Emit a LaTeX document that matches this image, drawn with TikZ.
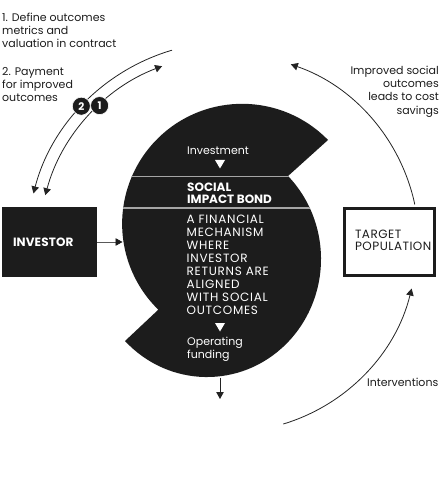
\documentclass[tikz,border=0pt]{standalone}
\usepackage{fontspec}
\setmainfont{Poppins}
\usetikzlibrary{arrows.meta}
\definecolor{ink}{RGB}{28,28,28}
\definecolor{rulegray}{RGB}{165,165,165}
\definecolor{linec}{RGB}{35,35,35}
\newcommand{\lnL}[1]{\begin{tabular}[t]{@{}l@{}}#1\end{tabular}}
\newcommand{\lnR}[1]{\begin{tabular}[t]{@{}r@{}}#1\end{tabular}}
\def\sibpath{(328,140) arc[start angle=-44.3, end angle=-225.7, radius=120] -- (125,341) arc[start angle=136, end angle=-44.7, x radius=114, y radius=118] -- cycle}
\begin{document}
\begin{tikzpicture}[x=1pt,y=-1pt,
  txt/.style={inner sep=0pt, font=\fontsize{11}{13.2}\selectfont, text=ink},
  wtxt/.style={inner sep=0pt, font=\fontsize{11}{13.2}\selectfont, text=white},
  wcaps/.style={inner sep=0pt, font=\fontsize{12}{13.1}\selectfont\addfontfeatures{LetterSpace=6}, text=white},
  wbold/.style={inner sep=0pt, font=\fontsize{12}{12.6}\selectfont\bfseries, text=white},
  arr/.style={-{Triangle[length=7pt,width=7.5pt]}, line width=0.8pt, draw=linec},
  dblarr/.style={{Triangle[length=7pt,width=7.5pt]}-{Triangle[length=7pt,width=7.5pt]}, line width=0.8pt, draw=linec},
  numdot/.style={circle, fill=ink, draw=white, line width=0.6pt, minimum size=18pt, inner sep=0pt, text=white, font=\fontsize{10.5}{10.5}\selectfont\bfseries}]
\useasboundingbox (0,0) rectangle (440,486);

% central shape
\fill[ink] \sibpath;
\begin{scope}
  \clip \sibpath;
  \draw[rulegray, line width=1.6pt] (100,176.5) -- (350,176.5);
  \draw[rulegray, line width=1.6pt] (100,208) -- (350,208);
\end{scope}
\coordinate (sibleft) at (122.5,242);
\coordinate (sibbot) at (220,377.5);
\coordinate (fundout) at (220,399);

\node[wtxt, anchor=base west] (investment) at (187,154.5) {Investment};
\fill[white] (215,160) -- (225,160) -- (220,168.5) -- cycle;
\node[wbold, anchor=base west] (sib) at (187,191.2) {\lnL{SOCIAL\\IMPACT BOND}};
\node[wcaps, anchor=base west] (desc) at (186.5,223.2) {\lnL{A FINANCIAL\\MECHANISM\\WHERE\\INVESTOR\\RETURNS ARE\\ALIGNED\\WITH SOCIAL\\OUTCOMES}};
\fill[white] (215,323) -- (225,323) -- (220,331.5) -- cycle;
\node[wtxt, anchor=base west] (opfund) at (187,345.5) {\lnL{Operating\\funding}};

% boxes
\node[fill=ink, minimum width=95pt, minimum height=70pt, text width=73pt, inner xsep=11pt, inner ysep=0pt, align=left, text=white, font=\fontsize{12}{13.2}\selectfont\bfseries\addfontfeatures{LetterSpace=1}] (investor) at (49.5,242) {INVESTOR};
\node[draw=ink, line width=3pt, minimum width=90pt, minimum height=67pt, text width=69pt, inner xsep=10.5pt, inner ysep=0pt, align=left, text=ink, font=\fontsize{12}{12.6}\selectfont\addfontfeatures{LetterSpace=4}] (target) at (389.5,242) {\lnL{TARGET\\POPULATION}};

% connectors
\draw[-{Triangle[length=7pt,width=7.5pt,color=ink]}, line width=0.8pt, draw=black!65] (investor.east) -- (sibleft);
\draw[arr] (sibbot) -- (fundout);

\coordinate (outerstart) at (172,50.2);
\coordinate (innerstart) at (162.1,66.2);
\draw[arr] (outerstart) arc[start angle=-106.4, end angle=-165.5, radius=202];
\draw[dblarr] (innerstart) arc[start angle=-110.6, end angle=-165.1, radius=190];
\node[numdot] (n2) at (81.3,106.2) {2};
\node[numdot] (n1) at (99.6,105.6) {1};

\coordinate (savestart) at (414.8,204.5);
\coordinate (intstart) at (283.3,424);
\draw[arr] (savestart) arc[start angle=-12, end angle=-71, radius=190];
\draw[arr] (intstart) arc[start angle=73.2, end angle=13.7, radius=188];

% texts
\node[txt, anchor=base west] (step1) at (2,21.5) {\lnL{1. Define outcomes\\metrics and\\valuation in contract}};
\node[txt, anchor=base west] (step2) at (2,75.5) {\lnL{2. Payment\\for improved\\outcomes}};
\node[txt, anchor=base east] (improved) at (439,74.5) {\lnR{Improved social\\outcomes\\leads to cost\\savings}};
\node[txt, anchor=base east] (interv) at (438.5,386.5) {Interventions};
\end{tikzpicture}
\end{document}
